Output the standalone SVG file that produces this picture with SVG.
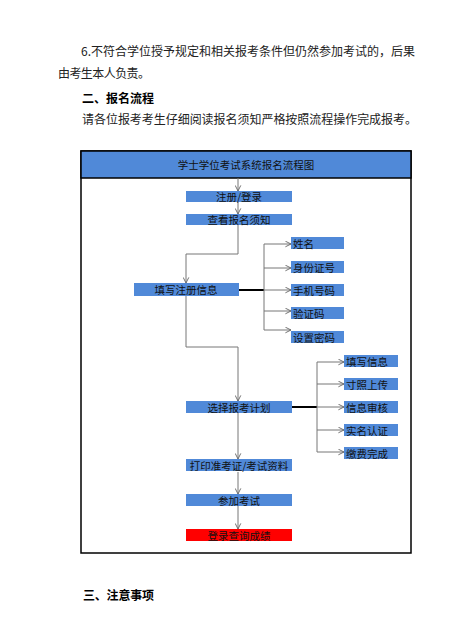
<svg xmlns="http://www.w3.org/2000/svg" width="470" height="625" viewBox="0 0 470 625">
<style>
.body{font-family:"Noto Sans CJK SC","Noto Sans",sans-serif;font-size:12px;fill:#222}
.bold{font-family:"Noto Sans CJK SC","Noto Sans",sans-serif;font-size:12px;font-weight:bold;fill:#000}
.box{fill:#5089d8}
.red{fill:#ff0000}
.lbl{font-family:"Noto Sans CJK SC","Noto Sans",sans-serif;font-size:10.5px;fill:#111;dominant-baseline:central}
.c{text-anchor:middle}
.ln{fill:none;stroke:#777;stroke-width:1}
.thick{fill:none;stroke:#000;stroke-width:2}
</style>
<defs>
<marker id="ah" viewBox="0 0 10 10" refX="9" refY="5" markerWidth="7" markerHeight="7" orient="auto" markerUnits="userSpaceOnUse">
<path d="M1,1 L9,5 L1,9" fill="none" stroke="#666" stroke-width="1.3"/>
</marker>
</defs>
<rect width="470" height="625" fill="#fff"/>
<g id="text">
<text class="body" x="81" y="56" textLength="334" lengthAdjust="spacing">6.不符合学位授予规定和相关报考条件但仍然参加考试的，后果</text>
<text class="body" x="58" y="78" textLength="92" lengthAdjust="spacing">由考生本人负责。</text>
<text class="bold" x="82" y="103" textLength="72" lengthAdjust="spacing">二、报名流程</text>
<text class="body" x="82" y="124" textLength="335" lengthAdjust="spacing">请各位报考考生仔细阅读报名须知严格按照流程操作完成报考。</text>
<text class="bold" x="83" y="600" textLength="71" lengthAdjust="spacing">三、注意事项</text>
</g>
<g id="frame">
<rect x="81" y="151" width="330" height="402" fill="#fff" stroke="#000" stroke-width="1.5"/>
<rect x="81" y="151" width="330" height="27" class="box" stroke="#000" stroke-width="1.5"/>
<text class="lbl c" x="246" y="164.5">学士学位考试系统报名流程图</text>
</g>
<g id="connectors">
<path class="ln" d="M238,178 V191" marker-end="url(#ah)"/>
<path class="ln" d="M238,202 V214" marker-end="url(#ah)"/>
<path class="ln" d="M238,225 V254 H186 V283" marker-end="url(#ah)"/>
<path class="thick" d="M239,290 H264"/>
<path class="ln" d="M264,244 V330"/>
<path class="ln" d="M264,244 H291" marker-end="url(#ah)"/>
<path class="ln" d="M264,268 H291" marker-end="url(#ah)"/>
<path class="ln" d="M264,290 H291" marker-end="url(#ah)"/>
<path class="ln" d="M264,311 H291" marker-end="url(#ah)"/>
<path class="ln" d="M264,330 H291" marker-end="url(#ah)"/>
<path class="ln" d="M186,296 V347 H238 V401" marker-end="url(#ah)"/>
<path class="thick" d="M292,407 H317"/>
<path class="ln" d="M317,362 V452"/>
<path class="ln" d="M317,362 H344" marker-end="url(#ah)"/>
<path class="ln" d="M317,384 H344" marker-end="url(#ah)"/>
<path class="ln" d="M317,407 H344" marker-end="url(#ah)"/>
<path class="ln" d="M317,430 H344" marker-end="url(#ah)"/>
<path class="ln" d="M317,452 H344" marker-end="url(#ah)"/>
<path class="ln" d="M238,413 V459" marker-end="url(#ah)"/>
<path class="ln" d="M238,472 V494" marker-end="url(#ah)"/>
<path class="ln" d="M238,506 V529" marker-end="url(#ah)"/>
</g>
<g id="n-register"><rect class="box" x="186" y="191" width="106" height="11"/><text class="lbl c" x="239" y="196.5">注册/登录</text></g>
<g id="n-notice"><rect class="box" x="186" y="214" width="106" height="11"/><text class="lbl c" x="239" y="219.5">查看报名须知</text></g>
<g id="n-fill"><rect class="box" x="134" y="283" width="105" height="13"/><text class="lbl c" x="186" y="289.5">填写注册信息</text></g>
<g id="n-name"><rect class="box" x="291" y="237" width="53" height="12"/><text class="lbl" x="293" y="243">姓名</text></g>
<g id="n-id"><rect class="box" x="291" y="261" width="53" height="12"/><text class="lbl" x="293" y="267">身份证号</text></g>
<g id="n-phone"><rect class="box" x="291" y="284" width="53" height="12"/><text class="lbl" x="293" y="290">手机号码</text></g>
<g id="n-code"><rect class="box" x="291" y="307" width="53" height="12"/><text class="lbl" x="293" y="313">验证码</text></g>
<g id="n-pwd"><rect class="box" x="291" y="331" width="53" height="12"/><text class="lbl" x="293" y="337">设置密码</text></g>
<g id="n-plan"><rect class="box" x="186" y="401" width="106" height="12"/><text class="lbl c" x="239" y="407">选择报考计划</text></g>
<g id="n-info"><rect class="box" x="344" y="355" width="54" height="12"/><text class="lbl" x="346" y="361">填写信息</text></g>
<g id="n-photo"><rect class="box" x="344" y="378" width="54" height="12"/><text class="lbl" x="346" y="384">寸照上传</text></g>
<g id="n-review"><rect class="box" x="344" y="401" width="54" height="12"/><text class="lbl" x="346" y="407">信息审核</text></g>
<g id="n-realname"><rect class="box" x="344" y="424" width="54" height="12"/><text class="lbl" x="346" y="430">实名认证</text></g>
<g id="n-pay"><rect class="box" x="344" y="447" width="54" height="12"/><text class="lbl" x="346" y="453">缴费完成</text></g>
<g id="n-print"><rect class="box" x="186" y="459" width="106" height="12"/><text class="lbl c" x="239" y="465">打印准考证/考试资料</text></g>
<g id="n-exam"><rect class="box" x="186" y="494" width="106" height="12"/><text class="lbl c" x="239" y="500">参加考试</text></g>
<g id="n-score"><rect class="red" x="186" y="529" width="106" height="12"/><text class="lbl c" x="239" y="535">登录查询成绩</text></g>
</svg>
